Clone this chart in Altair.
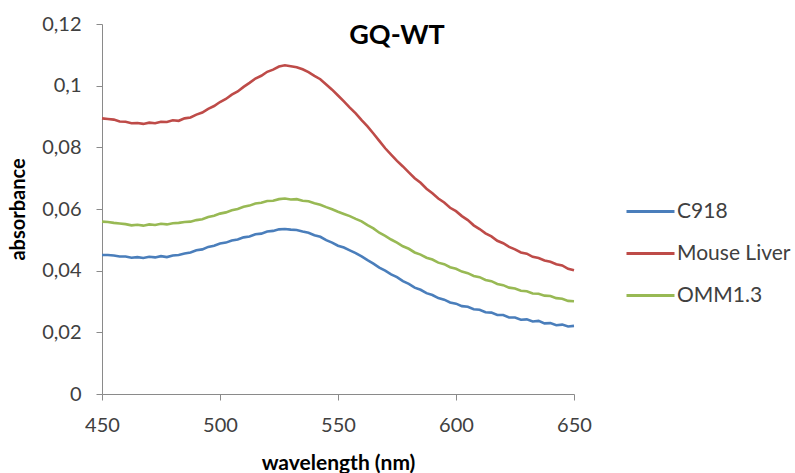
import altair as alt
import pandas as pd

# Absorbance spectra, sampled every 2.5 nm from 450 to 650 nm
wavelength = [450 + 2.5 * i for i in range(81)]

c918 = [0.0451, 0.0451, 0.0449, 0.0446, 0.0446, 0.0442, 0.0444, 0.0441, 0.0445, 0.0443,
        0.0447, 0.0444, 0.0449, 0.0451, 0.0456, 0.0459, 0.0466, 0.0469, 0.0477, 0.0481,
        0.0488, 0.0491, 0.0498, 0.0501, 0.0508, 0.0511, 0.0518, 0.0520, 0.0527, 0.0529,
        0.0534, 0.0535, 0.0533, 0.0532, 0.0527, 0.0523, 0.0515, 0.0510, 0.0499, 0.0491,
        0.0481, 0.0475, 0.0466, 0.0457, 0.0446, 0.0434, 0.0423, 0.0410, 0.0400, 0.0388,
        0.0379, 0.0366, 0.0357, 0.0345, 0.0338, 0.0327, 0.0321, 0.0311, 0.0306, 0.0297,
        0.0293, 0.0285, 0.0283, 0.0275, 0.0273, 0.0265, 0.0264, 0.0256, 0.0256, 0.0248,
        0.0248, 0.0241, 0.0242, 0.0235, 0.0237, 0.0229, 0.0230, 0.0223, 0.0225, 0.0219,
        0.0221]

mouse_liver = [0.0894, 0.0892, 0.0890, 0.0884, 0.0883, 0.0878, 0.0879, 0.0876, 0.0880, 0.0878,
               0.0883, 0.0882, 0.0888, 0.0886, 0.0894, 0.0897, 0.0906, 0.0913, 0.0925, 0.0934,
               0.0947, 0.0957, 0.0971, 0.0981, 0.0996, 0.1009, 0.1023, 0.1032, 0.1045, 0.1052,
               0.1062, 0.1066, 0.1063, 0.1060, 0.1053, 0.1044, 0.1032, 0.1021, 0.1004, 0.0987,
               0.0968, 0.0949, 0.0929, 0.0910, 0.0888, 0.0868, 0.0845, 0.0821, 0.0797, 0.0776,
               0.0756, 0.0738, 0.0719, 0.0700, 0.0685, 0.0666, 0.0651, 0.0634, 0.0621, 0.0604,
               0.0593, 0.0577, 0.0564, 0.0547, 0.0535, 0.0521, 0.0511, 0.0497, 0.0489, 0.0477,
               0.0469, 0.0459, 0.0455, 0.0445, 0.0441, 0.0433, 0.0429, 0.0421, 0.0417, 0.0406,
               0.0401]

omm13 = [0.0559, 0.0558, 0.0555, 0.0553, 0.0551, 0.0547, 0.0549, 0.0546, 0.0550, 0.0548,
         0.0552, 0.0550, 0.0554, 0.0555, 0.0558, 0.0559, 0.0564, 0.0567, 0.0574, 0.0578,
         0.0585, 0.0589, 0.0596, 0.0600, 0.0607, 0.0611, 0.0618, 0.0620, 0.0626, 0.0627,
         0.0632, 0.0634, 0.0631, 0.0632, 0.0627, 0.0625, 0.0619, 0.0614, 0.0606, 0.0599,
         0.0591, 0.0584, 0.0577, 0.0568, 0.0560, 0.0548, 0.0537, 0.0523, 0.0513, 0.0501,
         0.0491, 0.0479, 0.0471, 0.0459, 0.0452, 0.0442, 0.0436, 0.0426, 0.0421, 0.0411,
         0.0406, 0.0397, 0.0392, 0.0383, 0.0379, 0.0370, 0.0366, 0.0357, 0.0353, 0.0345,
         0.0342, 0.0335, 0.0333, 0.0326, 0.0325, 0.0319, 0.0318, 0.0311, 0.0309, 0.0302,
         0.0301]

series_names = ["C918", "Mouse Liver", "OMM1.3"]
series_colors = ["#4A7EBB", "#BE4B48", "#98B954"]

rows = []
for name, vals in zip(series_names, [c918, mouse_liver, omm13]):
    for w, v in zip(wavelength, vals):
        rows.append({"wavelength": w, "absorbance": v, "sample": name})
df = pd.DataFrame(rows)

FONT = "Lato"
TEXT = "#404040"
AXIS = "#8A8A8A"

chart = alt.Chart(df).mark_line(strokeWidth=2.6).encode(
    x=alt.X("wavelength:Q",
            scale=alt.Scale(domain=[450, 650], nice=False, zero=False),
            axis=alt.Axis(values=[450, 500, 550, 600, 650], title="wavelength (nm)",
                          grid=False, domainColor=AXIS, tickColor=AXIS, tickSize=6,
                          labelFlush=False, labelFont=FONT, labelFontSize=20,
                          labelColor=TEXT, labelPadding=15, titleFont=FONT,
                          titleFontSize=21, titleFontWeight="bold", titleColor="black",
                          titleX=236, titleY=75, titleBaseline="alphabetic")),
    y=alt.Y("absorbance:Q",
            scale=alt.Scale(domain=[0, 0.12], nice=False),
            axis=alt.Axis(values=[0, 0.02, 0.04, 0.06, 0.08, 0.1, 0.12], format=".2~f",
                          labelExpr="replace(datum.label, '.', ',')",
                          title="absorbance", grid=False, domainColor=AXIS,
                          tickColor=AXIS, tickSize=6, labelFlush=False, labelFont=FONT,
                          labelFontSize=20, labelColor=TEXT, labelPadding=15,
                          titleFont=FONT, titleFontSize=20, titleFontWeight="bold",
                          titleColor="black", titleX=-84, titleY=185, titleAngle=-90,
                          titleBaseline="middle", titleAlign="center")),
    color=alt.Color("sample:N",
                    scale=alt.Scale(domain=series_names, range=series_colors),
                    legend=alt.Legend(orient="none", legendX=538, legendY=177,
                                      title=None, symbolType="M-4,0H4", symbolSize=144,
                                      symbolStrokeWidth=3, labelOffset=16, rowPadding=20,
                                      padding=0, labelFont=FONT, labelFontSize=21,
                                      labelColor=TEXT)),
).properties(
    width=472,
    height=370,
    background="white",
    title=alt.TitleParams("GQ-WT", font=FONT, fontSize=27, fontWeight="bold",
                          color="black", anchor="middle", dx=59, dy=61,
                          baseline="alphabetic"),
    autosize=alt.AutoSizeParams(type="none"),
    padding={"left": 102, "top": 24, "right": 221, "bottom": 79},
).configure_view(strokeWidth=0)

chart.save("out.html", embed_options={"renderer": "svg", "actions": False})
